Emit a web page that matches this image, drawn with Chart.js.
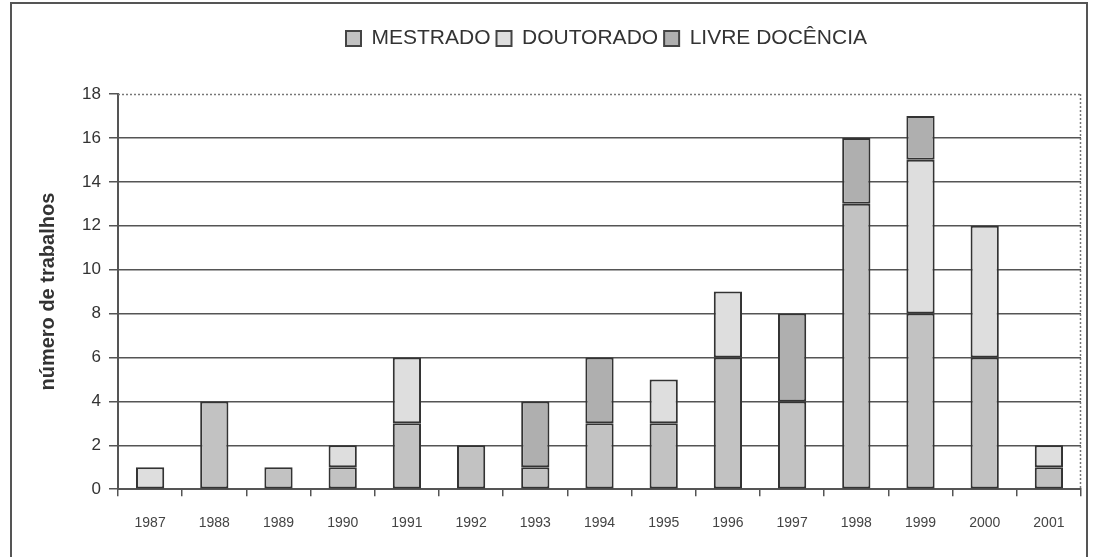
<!DOCTYPE html>
<html>
<head>
<meta charset="utf-8">
<script src="https://cdn.jsdelivr.net/npm/chart.js@4.4.0/dist/chart.umd.min.js"></script>
<style>
  html, body { margin: 0; padding: 0; background: #fff; }
  #wrap { position: relative; width: 1094px; height: 557px; }
  #frame { position: absolute; left: 10px; top: 2px; width: 1078px; height: 560px; border: 2px solid #555; box-sizing: border-box; }
  canvas { position: absolute; left: 0; top: 0; }
</style>
</head>
<body>
<div id="wrap">
  <div id="frame"></div>
  <canvas id="c" width="1094" height="557"></canvas>
</div>
<script>
const years = ["1987","1988","1989","1990","1991","1992","1993","1994","1995","1996","1997","1998","1999","2000","2001"];
const mestrado      = [0, 4, 1, 1, 3, 2, 1, 3, 3, 6, 4, 13, 8, 6, 1];
const doutorado     = [1, 0, 0, 1, 3, 0, 0, 0, 2, 3, 0, 0, 7, 6, 1];
const livreDocencia = [0, 0, 0, 0, 0, 0, 3, 3, 0, 0, 4, 3, 2, 0, 0];
const yTicks = [0, 2, 4, 6, 8, 10, 12, 14, 16, 18];

const FONT = "'Liberation Sans', Arial, sans-serif";

const borderPlugin = {
  id: 'plotBorder',
  beforeInit(chart) {
    const lg = chart.legend;
    if (lg) {
      const orig = lg.fit;
      lg.fit = function () { orig.call(this); this.height = 72; };
    }
  },
  afterLayout(chart) {
    const lg = chart.legend;
    if (lg) { lg.left += 100; lg.width -= 100; }
  },
  afterDraw(chart) {
    const a = chart.chartArea, ctx = chart.ctx;
    ctx.save();
    ctx.strokeStyle = '#777';
    ctx.lineWidth = 1.5;
    ctx.setLineDash([2, 2]);
    ctx.beginPath();
    ctx.moveTo(a.left, a.top + 0.5);
    ctx.lineTo(a.right, a.top + 0.5);
    ctx.moveTo(a.right - 0.5, a.top);
    ctx.lineTo(a.right - 0.5, a.bottom);
    ctx.stroke();
    ctx.restore();
  }
};

const ds = (label, data, color) => ({
  label, data,
  backgroundColor: color,
  borderColor: '#333',
  borderWidth: 2,
  borderSkipped: false,
  barPercentage: 0.44,
  categoryPercentage: 1.0
});

new Chart(document.getElementById('c'), {
  type: 'bar',
  data: {
    labels: years,
    datasets: [
      ds('MESTRADO', mestrado, '#c2c2c2'),
      ds('DOUTORADO', doutorado, '#dedede'),
      ds('LIVRE DOCÊNCIA', livreDocencia, '#afafaf')
    ]
  },
  options: {
    responsive: false,
    animation: false,
    layout: { padding: { left: 32, right: 13, top: 22, bottom: 6 } },
    plugins: {
      tooltip: { enabled: false },
      legend: {
        position: 'top',
        align: 'center',
        labels: {
          font: { family: FONT, size: 21 },
          color: '#333',
          boxWidth: 15,
          boxHeight: 15,
          padding: 6,
          generateLabels(chart) {
            return chart.data.datasets.map((d, i) => ({
              text: d.label, fillStyle: d.backgroundColor, strokeStyle: '#444',
              lineWidth: 2, datasetIndex: i, hidden: false, fontColor: '#333'
            }));
          }
        }
      }
    },
    scales: {
      x: {
        stacked: true,
        grid: { offset: true, drawOnChartArea: false, tickLength: 7, color: '#555', lineWidth: 1.5 },
        border: { display: true, color: '#555', width: 2 },
        ticks: { font: { family: FONT, size: 14 }, color: '#444', padding: 19, maxRotation: 0 }
      },
      y: {
        stacked: true,
        min: 0, max: 18,
        afterBuildTicks(axis) { axis.ticks = yTicks.map(v => ({ value: v })); },
        afterFit(axis) { axis.width = 86; },
        grid: {
          color: (c) => (c.tick && (c.tick.value === 18 || c.tick.value === 0)) ? 'rgba(0,0,0,0)' : '#555',
          tickColor: '#555',
          lineWidth: 1.5,
          tickLength: 9
        },
        border: { display: true, color: '#555', width: 2 },
        ticks: { font: { family: FONT, size: 17 }, color: '#333', padding: 8 },
        title: { display: true, text: 'número de trabalhos', font: { family: FONT, size: 20, weight: 'bold' }, color: '#333', padding: 4 }
      }
    }
  },
  plugins: [borderPlugin]
});
</script>
</body>
</html>
